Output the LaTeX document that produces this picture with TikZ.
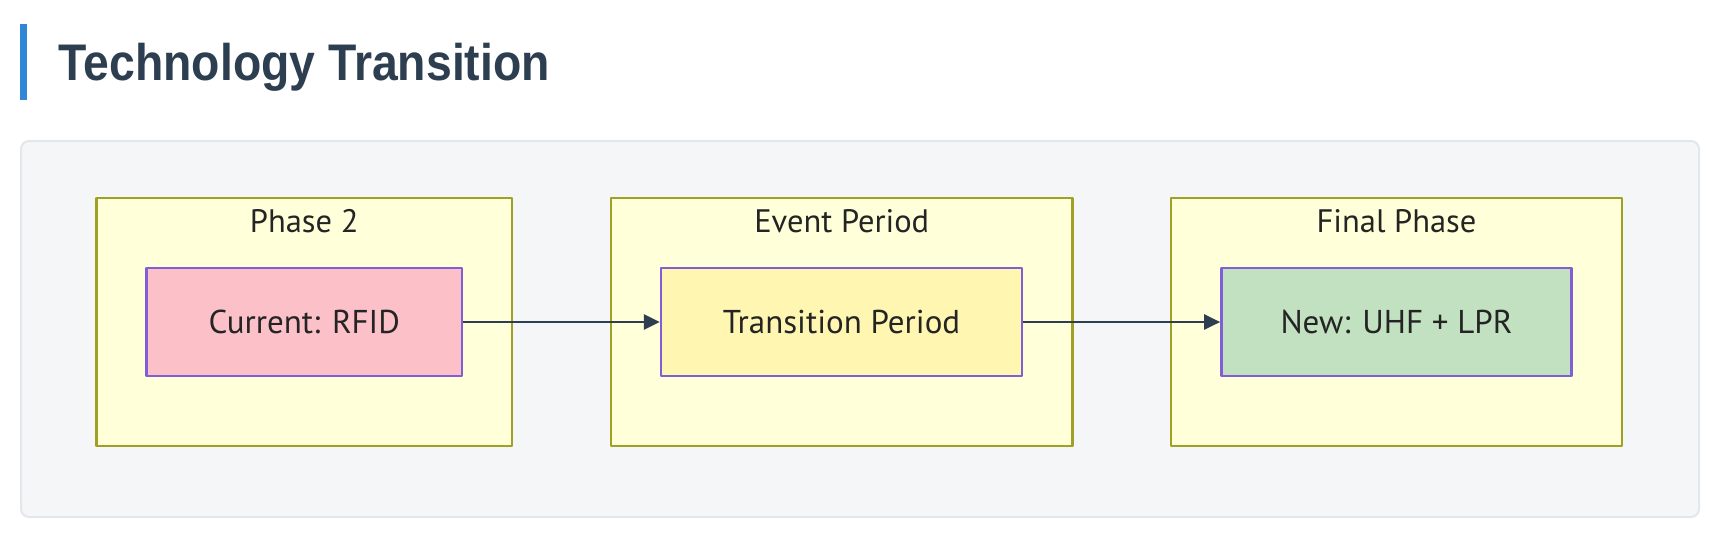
\documentclass[tikz,border=0pt]{standalone}
\usepackage[x11names, svgnames, rgb]{xcolor}
\usepackage{fontspec}
\setmainfont{PT Sans}
\newfontfamily\headfont[FakeStretch=0.9]{Liberation Sans}
\usepackage{tikz}
\usetikzlibrary{arrows.meta,shapes}
\definecolor{titleblue}{RGB}{49,134,214}
\definecolor{slate}{RGB}{44,62,80}
\definecolor{panelgray}{RGB}{245,246,248}
\definecolor{panelline}{RGB}{227,230,234}
\definecolor{clusterfill}{RGB}{255,255,218}
\definecolor{clusterline}{RGB}{160,160,36}
\definecolor{nodeline}{RGB}{128,94,214}
\definecolor{pinkfill}{RGB}{252,192,200}
\definecolor{yellowfill}{RGB}{255,246,178}
\definecolor{greenfill}{RGB}{193,225,193}
\definecolor{textgray}{RGB}{36,36,36}

\tikzset{
  cluster/.style={draw=clusterline,fill=clusterfill,line width=2.6bp,inner sep=0pt,minimum height=248bp},
  clusterlabel/.style={anchor=base,text=textgray,font=\fontsize{32.5bp}{38bp}\selectfont},
  phasenode/.style={draw=nodeline,line width=2.4bp,inner sep=0pt,minimum height=108bp,
    text=textgray,text height=23bp,text depth=0pt,font=\fontsize{33bp}{38bp}\selectfont},
}

\begin{document}
\begin{tikzpicture}[>={Triangle[length=16bp,width=15bp]},line join=bevel,]
\useasboundingbox (0bp,0bp) rectangle (1714bp,-534bp);
%%
\node (bar) at (23.25bp,-62.0bp) [fill=titleblue,inner sep=0pt,minimum width=7.5bp,minimum height=76bp] {};
  \node (title) at (58.6bp,-80.0bp) [anchor=base west,inner sep=0pt,text=slate,font=\headfont\bfseries\fontsize{51.5bp}{60bp}\selectfont] {Technology Transition};
  \node (panel) at (860.0bp,-329.0bp) [draw=panelline,fill=panelgray,line width=2bp,rounded corners=8bp,inner sep=0pt,minimum width=1678bp,minimum height=376bp] {};
%
  \node (phase2) at (304.25bp,-322.0bp) [cluster,minimum width=415.5bp] {};
  \node (event) at (841.75bp,-322.0bp) [cluster,minimum width=461.5bp] {};
  \node (final) at (1396.5bp,-322.0bp) [cluster,minimum width=451bp] {};
  \node (phase2label) at (304.25bp,-232.7bp) [clusterlabel] {Phase 2};
  \node (eventlabel) at (841.75bp,-232.7bp) [clusterlabel] {Event Period};
  \node (finallabel) at (1396.5bp,-232.7bp) [clusterlabel] {Final Phase};
%
  \node (current) at (304.2bp,-322.0bp) [phasenode,fill=pinkfill,minimum width=315.5bp] {Current: RFID};
  \node (transition) at (841.5bp,-322.0bp) [phasenode,fill=yellowfill,minimum width=361bp] {Transition Period};
  \node (new) at (1396.5bp,-322.0bp) [phasenode,fill=greenfill,minimum width=350.3bp] {New: UHF + LPR};
  \draw [->,draw=slate,fill=slate,line width=2.6bp] (current) -- (transition);
  \draw [->,draw=slate,fill=slate,line width=2.6bp] (transition) -- (new);
%
\end{tikzpicture}
\end{document}
